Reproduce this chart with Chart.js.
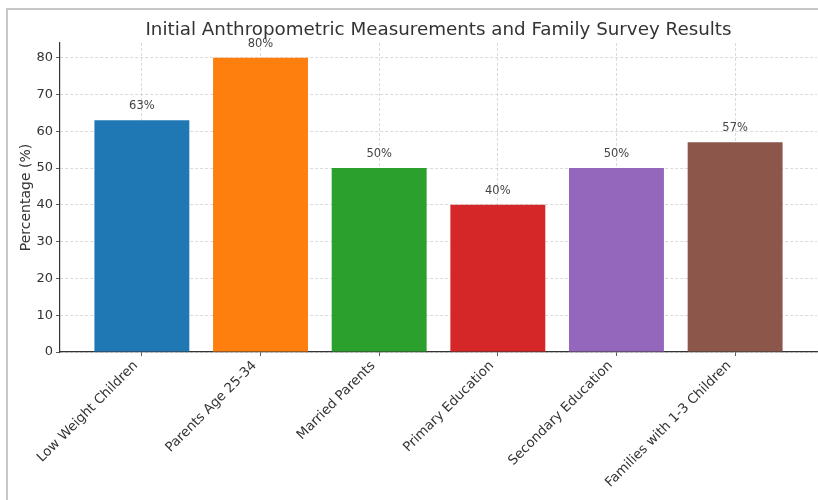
<!DOCTYPE html>
<html>
<head>
<meta charset="utf-8">
<script src="https://cdn.jsdelivr.net/npm/chart.js@4.4.0/dist/chart.umd.min.js"></script>
<style>
    html, body { margin: 0; padding: 0; background: #fff; overflow: hidden; }
    canvas { display: block; }
</style>
</head>
<body>
<canvas id="chart" width="818" height="500"></canvas>
<script>
// categories and values
const categories = ['Low Weight Children', 'Parents Age 25-34', 'Married Parents',
                    'Primary Education', 'Secondary Education', 'Families with 1-3 Children'];
const percentages = [63, 80, 50, 40, 50, 57];
const barColors = ['#1f77b4', '#ff7f0e', '#2ca02c', '#d62728', '#9467bd', '#8c564b'];
const yTicks = [0, 10, 20, 30, 40, 50, 60, 70, 80];

const textColor = '#333333';
const gridColor = 'rgba(176,176,176,0.6)';

// grey frame of the cropped screenshot (left and top edges only)
const frame = {
    id: 'frame',
    beforeDraw(chart) {
        const ctx = chart.ctx;
        ctx.save();
        ctx.strokeStyle = '#c8c8c8';
        ctx.lineWidth = 2;
        ctx.beginPath();
        ctx.moveTo(7, chart.height);
        ctx.lineTo(7, 9);
        ctx.lineTo(chart.width, 9);
        ctx.stroke();
        ctx.restore();
    }
};

// value labels above each bar + title centred on the plot
const barLabels = {
    id: 'barLabels',
    afterDraw(chart) {
        const ctx = chart.ctx;
        const meta = chart.getDatasetMeta(0);
        ctx.save();
        ctx.font = '11.5px "DejaVu Sans"';
        ctx.fillStyle = '#444';
        ctx.textAlign = 'center';
        ctx.textBaseline = 'middle';
        meta.data.forEach((bar, i) => {
            ctx.fillText(percentages[i] + '%', bar.x, bar.y - 14);
        });
        const area = chart.chartArea;
        ctx.font = '18.3px "DejaVu Sans"';
        ctx.fillStyle = textColor;
        ctx.fillText('Initial Anthropometric Measurements and Family Survey Results',
                     (area.left + area.right) / 2, area.top - 13);
        ctx.restore();
    }
};

new Chart(document.getElementById('chart'), {
    type: 'bar',
    data: {
        datasets: [{
            data: percentages.map((v, i) => ({ x: i, y: v })),
            backgroundColor: barColors,
            borderWidth: 0,
            categoryPercentage: 1,
            barPercentage: 0.8
        }]
    },
    options: {
        responsive: false,
        animation: false,
        layout: { padding: { top: 43, left: 0, right: 1, bottom: 0 } },
        plugins: { legend: { display: false }, tooltip: { enabled: false }, title: { display: false } },
        scales: {
            x: {
                type: 'linear',
                min: -0.69,
                max: 5.69,
                offset: false,
                z: 1,
                afterBuildTicks(scale) { scale.ticks = categories.map((c, i) => ({ value: i })); },
                afterFit(scale) { scale.height = 148; },
                grid: { offset: false, color: gridColor, lineWidth: 0.8, tickLength: 4, tickColor: '#333' },
                border: { display: true, color: '#333', width: 1.2, dash: [3, 2] },
                ticks: {
                    autoSkip: false,
                    maxRotation: 45,
                    minRotation: 45,
                    padding: 2,
                    labelOffset: -6,
                    color: textColor,
                    font: { family: 'DejaVu Sans', size: 13.3 },
                    callback: (v) => categories[v]
                }
            },
            y: {
                min: 0,
                max: 84,
                z: 1,
                afterBuildTicks(scale) { scale.ticks = yTicks.map(v => ({ value: v })); },
                afterFit(scale) { scale.width = 60; },
                grid: { color: gridColor, lineWidth: 0.8, tickLength: 4, tickColor: '#333' },
                border: { display: true, color: '#333', width: 1.2, dash: [3, 2] },
                ticks: {
                    padding: 3,
                    color: textColor,
                    font: { family: 'DejaVu Sans', size: 13 }
                },
                title: {
                    display: true,
                    text: 'Percentage (%)',
                    color: textColor,
                    font: { family: 'DejaVu Sans', size: 14 },
                    padding: { top: 18, bottom: 0 }
                }
            }
        }
    },
    plugins: [frame, barLabels]
});
</script>
</body>
</html>
